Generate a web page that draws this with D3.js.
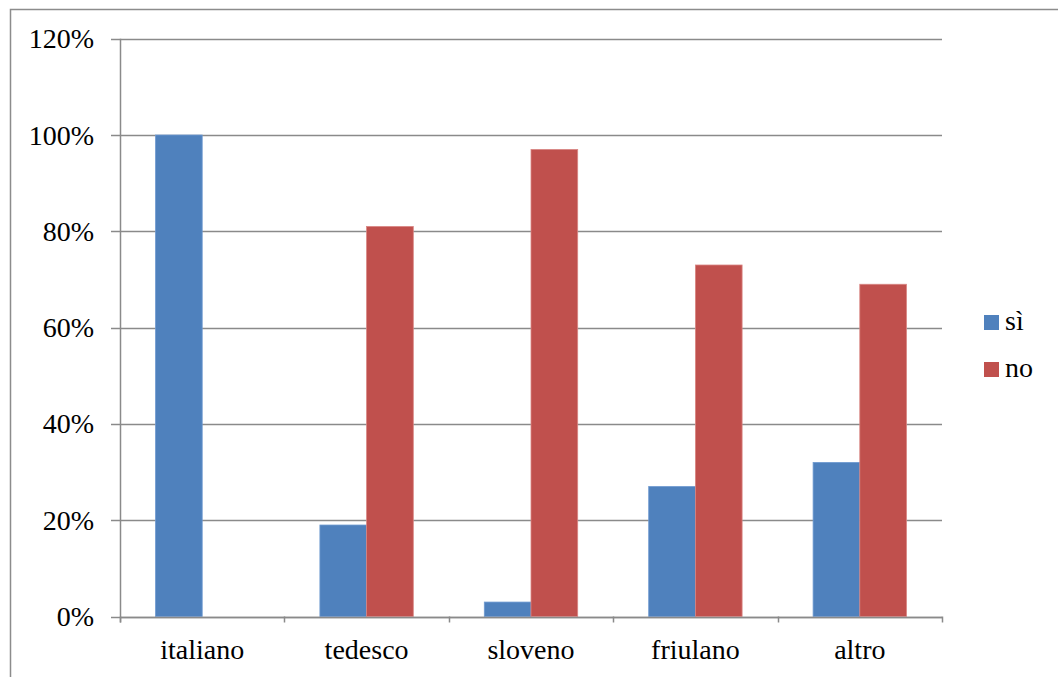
<!DOCTYPE html>
<html>
<head>
<meta charset="utf-8">
<script src="https://cdn.jsdelivr.net/npm/d3@7"></script>
<style>
  body { margin: 0; background: #fff; }
  text { font-family: "Liberation Serif", serif; fill: #000; }
</style>
</head>
<body>
<svg id="chart" width="1058" height="677"></svg>
<script>
const categories = ['italiano', 'tedesco', 'sloveno', 'friulano', 'altro'];
const seriesNames = ['sì', 'no'];
const siValues = [1.00, 0.19, 0.03, 0.27, 0.32];
const noValues = [0.00, 0.81, 0.97, 0.73, 0.69];
const yTicks = [0, 0.2, 0.4, 0.6, 0.8, 1.0, 1.2];
const colors = ['#4F81BD', '#C0504D'];
const strokes = ['#6f9ad0', '#d98683'];

const svg = d3.select('#chart');
const plot = { left: 120, right: 942, top: 38.7, bottom: 616.5 };
const fontSize = '28px';

// outer frame (cut off at right and bottom)
svg.append('path')
  .attr('d', 'M10.5,677 V9.5 H1058')
  .attr('fill', 'none')
  .attr('stroke', '#8c8c8c')
  .attr('stroke-width', 1.5);

const x = d3.scaleBand().domain(categories).range([plot.left, plot.right]).paddingInner(0).paddingOuter(0);
const xSub = d3.scaleBand().domain(seriesNames).range([35.5, x.bandwidth() - 35.5]);
const y = d3.scaleLinear().domain([0, 1.2]).range([plot.bottom, plot.top]);

// gridlines
svg.append('g')
  .selectAll('line')
  .data(yTicks)
  .join('line')
  .attr('x1', plot.left - 9)
  .attr('x2', plot.right)
  .attr('y1', d => Math.round(y(d)) + 0.5)
  .attr('y2', d => Math.round(y(d)) + 0.5)
  .attr('stroke', '#8a8a8a')
  .attr('stroke-width', 1.5);

// y labels
svg.append('g')
  .selectAll('text')
  .data(yTicks)
  .join('text')
  .attr('x', 94)
  .attr('y', d => y(d) + 9.5)
  .attr('text-anchor', 'end')
  .style('font-size', fontSize)
  .text(d => d3.format('.0%')(d));

// bars
const rows = categories.map((c, i) => ({ cat: c, vals: [siValues[i], noValues[i]] }));
const groups = svg.append('g')
  .selectAll('g')
  .data(rows)
  .join('g')
  .attr('transform', d => `translate(${x(d.cat)},0)`);

groups.selectAll('rect')
  .data(d => d.vals.map((v, k) => ({ v, k })).filter(e => e.v > 0))
  .join('rect')
  .attr('x', d => xSub(seriesNames[d.k]))
  .attr('width', xSub.bandwidth())
  .attr('y', d => y(d.v))
  .attr('height', d => plot.bottom - y(d.v))
  .attr('fill', d => colors[d.k])
  .attr('stroke', d => strokes[d.k])
  .attr('stroke-width', 0.8);

// axes lines
svg.append('line')
  .attr('x1', plot.left + 0.5).attr('x2', plot.left + 0.5)
  .attr('y1', plot.top).attr('y2', plot.bottom + 6)
  .attr('stroke', '#8a8a8a').attr('stroke-width', 1.5);

svg.append('line')
  .attr('x1', plot.left).attr('x2', plot.right)
  .attr('y1', Math.round(plot.bottom) + 0.5).attr('y2', Math.round(plot.bottom) + 0.5)
  .attr('stroke', '#8a8a8a').attr('stroke-width', 1.5);

// category ticks
const tickXs = categories.map(c => x(c)).concat([plot.right]);
svg.append('g')
  .selectAll('line')
  .data(tickXs)
  .join('line')
  .attr('x1', d => Math.round(d) + 0.5)
  .attr('x2', d => Math.round(d) + 0.5)
  .attr('y1', plot.bottom)
  .attr('y2', plot.bottom + 6)
  .attr('stroke', '#8a8a8a')
  .attr('stroke-width', 1.5);

// x labels
svg.append('g')
  .selectAll('text')
  .data(categories)
  .join('text')
  .attr('x', d => x(d) + x.bandwidth() / 2)
  .attr('y', 659)
  .attr('text-anchor', 'middle')
  .style('font-size', fontSize)
  .text(d => d);

// legend
const legend = svg.append('g')
  .selectAll('g')
  .data(seriesNames)
  .join('g')
  .attr('transform', (d, i) => `translate(984,${315 + i * 47})`);

legend.append('rect')
  .attr('width', 15)
  .attr('height', 15)
  .attr('fill', (d, i) => colors[i]);

legend.append('text')
  .attr('x', 21)
  .attr('y', 15)
  .style('font-size', fontSize)
  .text(d => d);
</script>
</body>
</html>
